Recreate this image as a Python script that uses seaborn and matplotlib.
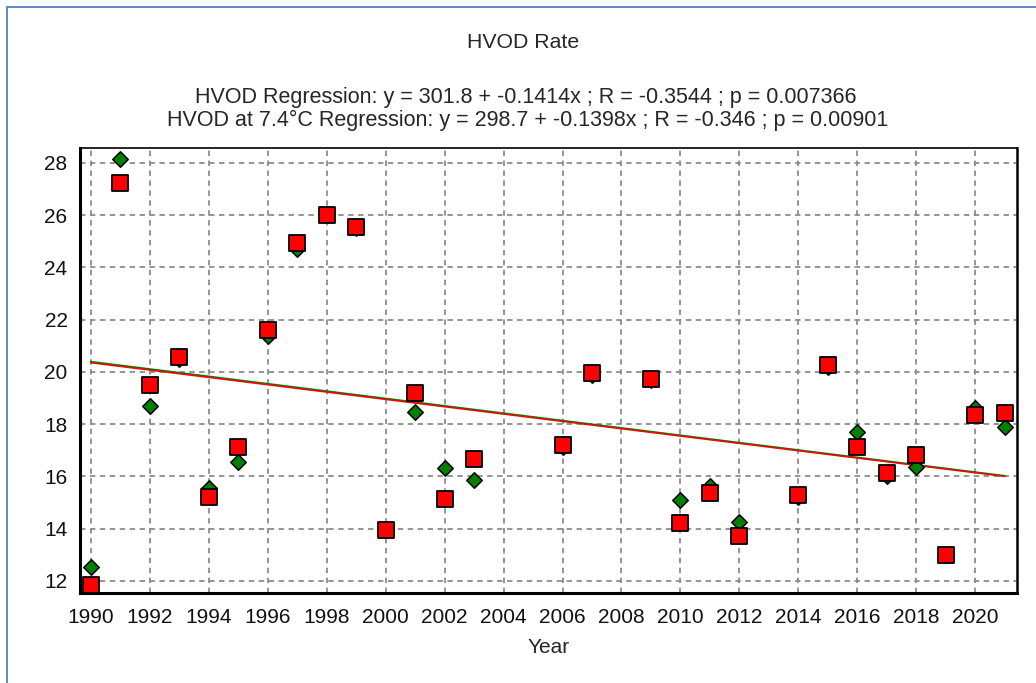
import matplotlib
matplotlib.use("Agg")
import matplotlib.pyplot as plt
from matplotlib.patches import Rectangle
from matplotlib.ticker import MultipleLocator
import seaborn as sns
import pandas as pd

sns.set_style("white")
plt.rcParams['font.family'] = ['Liberation Sans', 'DejaVu Sans']

years = [1990, 1991, 1992, 1993, 1994, 1995, 1996, 1997, 1998, 1999, 2000, 2001, 2002, 2003,
         2006, 2007, 2009, 2010, 2011, 2012, 2014, 2015, 2016, 2017, 2018, 2019, 2020, 2021]

# green diamonds
hvod = [12.52, 28.15, 18.70, 20.50, 15.55, 16.54, 21.36, 24.70, 26.00, 25.50, 14.00, 18.48, 16.34, 15.87,
        17.12, 19.88, 19.70, 15.10, 15.64, 14.27, 15.22, 20.17, 17.72, 16.02, 16.38, 13.00, 18.61, 17.91]
# red squares
hvod_74 = [11.85, 27.23, 19.50, 20.57, 15.20, 17.12, 21.59, 24.93, 26.02, 25.55, 13.95, 19.21, 15.13, 16.66,
           17.21, 19.95, 19.72, 14.21, 15.36, 13.72, 15.29, 20.27, 17.12, 16.12, 16.82, 12.99, 18.36, 18.42]

title = 'HVOD Rate'
reg_lines = ['HVOD Regression: y = 301.8 + -0.1414x ; R = -0.3544 ; p = 0.007366',
             'HVOD at 7.4\u00b0C Regression: y = 298.7 + -0.1398x ; R = -0.346 ; p = 0.00901']

df = pd.DataFrame({'Year': years, 'hvod': hvod, 'hvod_74': hvod_74})

fig = plt.figure(figsize=(10.36, 6.83), dpi=100)
ax = fig.add_axes([80/1036, 1-593/683, (1017-80)/1036, (593-148)/683])

# regression lines (drawn under the markers)
sns.regplot(data=df, x='Year', y='hvod', scatter=False, ci=None, ax=ax,
            line_kws={'color': '#008000', 'lw': 1.3, 'zorder': 2})
sns.regplot(data=df, x='Year', y='hvod_74', scatter=False, ci=None, ax=ax,
            line_kws={'color': '#ff0000', 'lw': 1.1, 'zorder': 2.1})

sns.scatterplot(data=df, x='Year', y='hvod', marker='D', s=62, color='#008000',
                edgecolor='black', linewidth=1.1, ax=ax, zorder=3)
sns.scatterplot(data=df, x='Year', y='hvod_74', marker='s', s=122, color='#ff0000',
                edgecolor='black', linewidth=1.3, ax=ax, zorder=4)

ax.set_xlim(1989.64, 2021.41)
ax.set_ylim(11.54, 28.57)
ax.xaxis.set_major_locator(MultipleLocator(2))
ax.xaxis.set_minor_locator(MultipleLocator(0.5))
ax.yaxis.set_major_locator(MultipleLocator(2))
ax.yaxis.set_minor_locator(MultipleLocator(0.5))

ax.grid(True, which='major', color='#8c8c8c', linestyle=(0, (3, 2.5)), lw=1.3)
ax.set_axisbelow(True)

ax.tick_params(axis='both', which='major', direction='out', length=5, width=1.2,
               color='#8c8c8c', labelsize=15, labelcolor='#111111')
ax.tick_params(axis='x', which='major', pad=6)
ax.tick_params(axis='y', which='major', pad=4)
ax.tick_params(axis='both', which='minor', direction='out', length=2.5, width=1, color='#333333')

for side, lw in [('left', 2.2), ('bottom', 2.2), ('top', 1.2), ('right', 1.8)]:
    ax.spines[side].set_visible(True)
    ax.spines[side].set_color('black')
    ax.spines[side].set_linewidth(lw)

ax.set_xlabel('Year', fontsize=15, labelpad=8)
ax.set_ylabel('')

fig.text(0.505, 1-42/683, title, ha='center', va='center', fontsize=15.3)
fig.text(0.507, 1-97/683, reg_lines[0], ha='center', va='center', fontsize=15.5)
fig.text(0.509, 1-120/683, reg_lines[1], ha='center', va='center', fontsize=15.5)

# light blue frame round the picture
fig.patches.append(Rectangle((6.5/1036, -0.05), 1.2, 1-6.5/683+0.05, transform=fig.transFigure,
                             fill=False, edgecolor='#4f81bd', lw=1.3))

fig.savefig('out.png', dpi=100)
